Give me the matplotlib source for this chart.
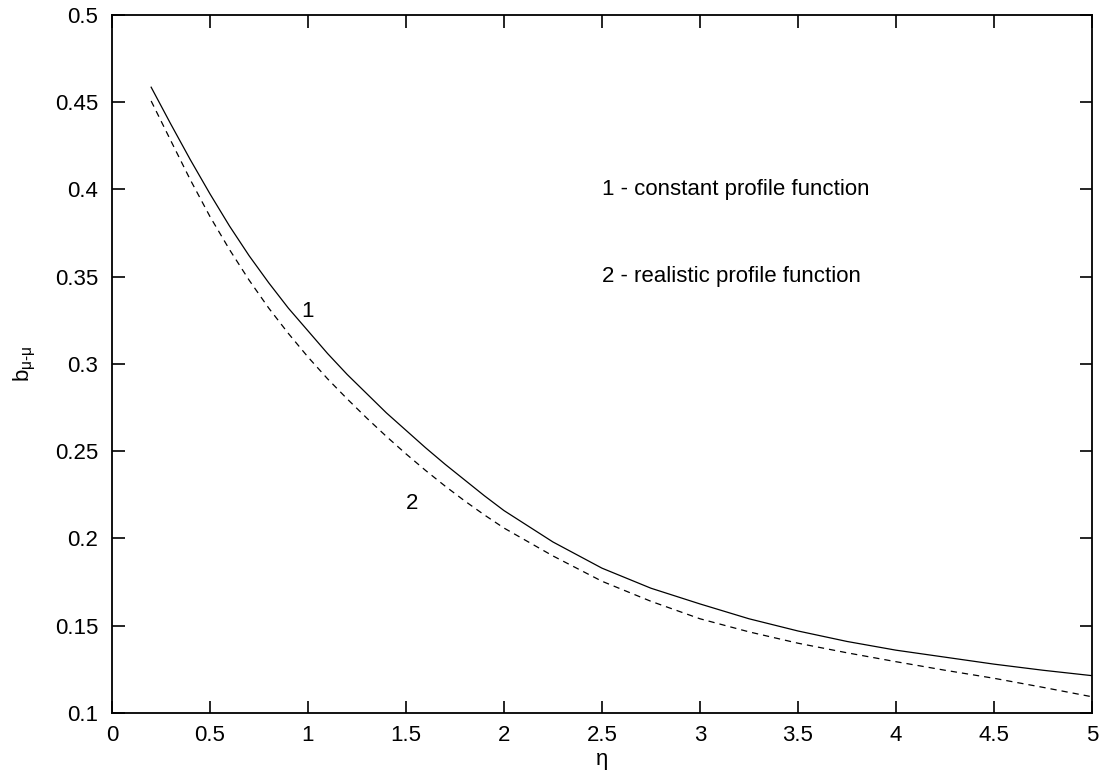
# b(mu-mu) vs eta, two profile functions
import matplotlib.pyplot as plt

plt.rcParams['font.family'] = ['Liberation Sans', 'DejaVu Sans']
plt.rcParams['mathtext.fontset'] = 'custom'
plt.rcParams['mathtext.rm'] = 'Liberation Sans'
plt.rcParams['mathtext.it'] = 'Liberation Sans'

# values
eta = [0.2, 0.3, 0.4, 0.5, 0.6, 0.7, 0.8, 0.9, 1.0, 1.1, 1.2, 1.3, 1.4,
       1.5, 1.6, 1.7, 1.8, 1.9, 2.0, 2.25, 2.5, 2.75, 3.0, 3.25, 3.5,
       3.75, 4.0, 4.25, 4.5, 4.75, 5.0]
b_const = [0.4586, 0.4375, 0.4170, 0.3975, 0.3790, 0.3620, 0.3465, 0.3320,
           0.3190, 0.3060, 0.2940, 0.2830, 0.2720, 0.2620, 0.2520, 0.2425,
           0.2335, 0.2245, 0.2160, 0.1980, 0.1830, 0.1715, 0.1625, 0.1540,
           0.1470, 0.1410, 0.1360, 0.1320, 0.1280, 0.1245, 0.1214]
b_real = [0.4507, 0.4280, 0.4055, 0.3845, 0.3655, 0.3480, 0.3320, 0.3175,
          0.3040, 0.2915, 0.2800, 0.2690, 0.2585, 0.2485, 0.2390, 0.2300,
          0.2215, 0.2135, 0.2060, 0.1900, 0.1755, 0.1640, 0.1540, 0.1465,
          0.1400, 0.1345, 0.1294, 0.1245, 0.1199, 0.1147, 0.1093]

xticks = [0, 0.5, 1, 1.5, 2, 2.5, 3, 3.5, 4, 4.5, 5]
yticks = [0.1, 0.15, 0.2, 0.25, 0.3, 0.35, 0.4, 0.45, 0.5]

fig = plt.figure(figsize=(11.03, 7.83), dpi=100)
ax = fig.add_axes([0.1015, 0.0894, 0.8885, 0.8915])

ax.plot(eta, b_const, color='black', lw=0.9, linestyle='-')
ax.plot(eta, b_real, color='black', lw=0.9, linestyle=(0, (5, 4)))

ax.set_xlim(0, 5)
ax.set_ylim(0.1, 0.5)
ax.set_xticks(xticks)
ax.set_xticklabels([f'{t:g}' for t in xticks])
ax.set_yticks(yticks)
ax.set_yticklabels([f'{t:g}' for t in yticks])

ax.tick_params(direction='in', length=9, width=1.2, top=True, right=True,
               labelsize=16)
ax.tick_params(axis='x', pad=9)
ax.tick_params(axis='y', pad=10)
for s in ax.spines.values():
    s.set_linewidth(1.3)

ax.text(1.0, 0.330, '1', fontsize=16, ha='center', va='center')
ax.text(1.53, 0.220, '2', fontsize=16, ha='center', va='center')
ax.text(2.5, 0.40, '1 - constant profile function', fontsize=16,
        ha='left', va='center')
ax.text(2.5, 0.35, '2 - realistic profile function', fontsize=16,
        ha='left', va='center')

ax.set_xlabel('η', fontsize=16, labelpad=2)
ax.set_ylabel(r'b$_{μ\text{-}μ}$', fontsize=16, labelpad=12)

fig.savefig('out.png', dpi=100)
